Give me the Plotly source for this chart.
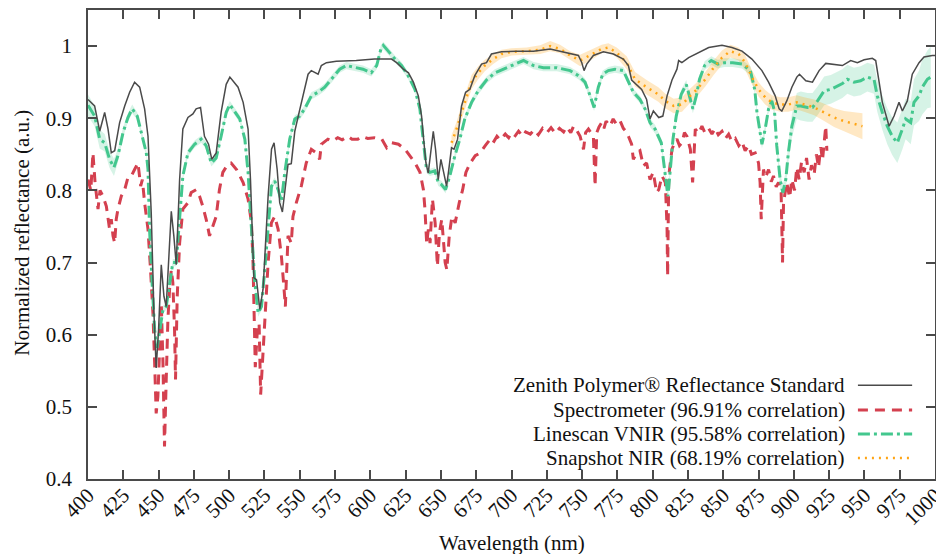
import plotly.graph_objects as go

# ---------------- data ----------------
ref_x = [400, 404.7, 408.3, 411.8, 414.2, 416.5, 418.9, 422.4, 426, 429.5, 433, 436.6, 440.1, 442.5,
         444.8, 446.7, 448.3, 450, 451.9, 453.8, 455.4, 457.1, 459, 460.8, 462.5, 464.9, 467.2, 470.8,
         474.3, 476.6, 479.7, 482.5, 485.4, 487.7, 490.8, 494.3, 497.9, 500.5, 506.3, 509.9, 513.4,
         515.1, 515.8, 517.5, 519.4, 521.7, 524, 527.6, 530, 531.8, 534, 535.8, 537.7, 539.4, 541.7,
         544, 546.5, 550, 552.3, 555.9, 558.2, 560.6, 563, 565.3, 568.9, 575.9, 590, 603, 615, 618.6,
         623.4, 627, 630.5, 634, 636.3, 638, 639.4, 641, 642.9, 644.6, 646.2, 648.1, 650, 651.6, 654,
         655.6, 657.5, 659.3, 661.8, 664.6, 667.5, 670.5, 674, 678.8, 682.3, 685.8, 692.9, 703.5,
         715.6, 727.4, 739.1, 747.4, 749.8, 751.4, 753.3, 758, 765.1, 772.2, 779.2, 782.8, 785.1,
         788.7, 792.2, 795.7, 798.1, 800.5, 804.3, 807.2, 810.2, 813.7, 817.2, 818.4, 820.7, 825.5,
         832.6, 839.7, 849.1, 856.2, 863.3, 870.3, 877.4, 882.1, 886.8, 889.6, 891.5, 895, 898.6,
         902.1, 904, 908.5, 913.2, 917.9, 922.6, 928.5, 934.4, 940.3, 945, 949.8, 955.6, 958, 960.4,
         962.7, 967.5, 971, 974.5, 976.9, 980.4, 983.9, 988.7, 992.2, 998.1, 1000]
ref_y = [0.926, 0.917, 0.882, 0.908, 0.885, 0.852, 0.855, 0.894, 0.917, 0.936, 0.950, 0.943, 0.913, 0.875,
         0.769, 0.631, 0.554, 0.607, 0.697, 0.653, 0.639, 0.700, 0.771, 0.737, 0.697, 0.815, 0.885, 0.901,
         0.906, 0.913, 0.915, 0.875, 0.864, 0.843, 0.852, 0.908, 0.947, 0.957, 0.943, 0.922, 0.885,
         0.815, 0.769, 0.679, 0.676, 0.635, 0.663, 0.792, 0.857, 0.866, 0.829, 0.783, 0.770, 0.801, 0.836,
         0.837, 0.882, 0.912, 0.931, 0.961, 0.966, 0.964, 0.961, 0.973, 0.977, 0.979, 0.980, 0.982, 0.982, 0.977,
         0.968, 0.963, 0.950, 0.931, 0.903, 0.866, 0.838, 0.824, 0.857, 0.882, 0.857, 0.815, 0.843, 0.829, 0.806,
         0.829, 0.859, 0.857, 0.871, 0.917, 0.936, 0.940, 0.959, 0.975, 0.977, 0.989, 0.992, 0.993,
         0.993, 0.996, 0.991, 0.987, 0.977, 0.966, 0.975, 0.987, 0.992, 0.989, 0.982, 0.973, 0.953,
         0.947, 0.940, 0.926, 0.899, 0.910, 0.901, 0.903, 0.931, 0.953, 0.968, 0.980, 0.977, 0.984,
         0.991, 0.998, 1.001, 0.998, 0.993, 0.982, 0.966, 0.950, 0.931, 0.913, 0.910, 0.924, 0.943,
         0.957, 0.961, 0.952, 0.950, 0.966, 0.976, 0.974, 0.973, 0.980, 0.977, 0.981, 0.983, 0.980, 0.950,
         0.922, 0.889, 0.903, 0.922, 0.910, 0.924, 0.961, 0.977, 0.985, 0.987, 0.987]

spec_x = [400, 402, 403.5, 405, 407.1, 408.5, 410.6, 413, 415.3, 416.5,
          417.7, 418.9, 420, 421.2, 423.6, 426, 428.3, 430.7, 433, 435.4,
          437.3, 438.5, 440.1, 442.5, 444.3, 446, 447.2, 448.3, 449.5, 450.7,
          451.9, 453.1, 454.2, 455.4, 456.6, 457.8, 459, 460.1, 461.3, 462,
          463.2, 464.9, 467.2, 470.8, 473.1, 476.6, 479, 481.3, 483.7, 486.1,
          488.4, 490.8, 493.1, 495.5, 499, 501.4, 505.2, 509.9, 513.4, 515.8,
          516.9, 517.5, 518.5, 520, 521.2, 522.3, 524, 525.2, 527.6, 529.9,
          532.3, 534.7, 537, 538.9, 539.8, 541.7, 544, 545.2, 547.6, 551.1,
          554.6, 558.2, 561.7, 564.1, 565.3, 569.9, 573, 576.9, 580, 584,
          587, 591.1, 594, 598.2, 602.9, 608.1, 611.6, 615.2, 619.9, 624.6,
          628.1, 631.7, 635.2, 637.6, 638.7, 639.9, 641.1, 642.3, 644, 645.9,
          647.5, 649, 650.6, 651.8, 653, 654.2, 655.9, 657.8, 660.1, 663,
          665.4, 667.7, 670.8, 674.3, 677.9, 681.4, 685, 687, 689.7, 692,
          695.6, 698, 700, 702.7, 705, 708, 710, 713.3, 716, 719,
          722, 725.1, 728, 731, 734, 736.9, 739, 742, 744, 746.3,
          748.6, 751, 752.5, 754.5, 757, 758, 759.2, 760.4, 762, 763.9,
          765.5, 767, 769.8, 772, 774.5, 777, 779.2, 781, 782.8, 785.1,
          786.3, 788.7, 791, 793.4, 795.7, 798.1, 800.4, 802.8, 804.3, 806.6,
          809, 810.2, 810.6, 811.4, 813.7, 815.5, 817.2, 819, 820.8, 822.5,
          824.3, 826.7, 828.3, 830.2, 832.5, 834.9, 837, 839.6, 842, 844.3,
          846.5, 849.1, 851.5, 853.8, 856, 858.5, 861, 863.2, 865.5, 867.9,
          870, 872.6, 875, 876.1, 876.9, 878.5, 880, 882.1, 884, 885.6,
          887.5, 889.2, 891, 891.5, 892, 892.7, 895, 897, 898.6, 900.5,
          902.1, 903.8, 905.5, 907.3, 909, 910.8, 912.5, 914.4, 916, 917.5,
          919.1, 920.3, 921.5, 922.6, 923.4]
spec_y = [0.815, 0.800, 0.852, 0.811, 0.774, 0.800, 0.792, 0.778, 0.746, 0.760,
          0.737, 0.727, 0.760, 0.774, 0.792, 0.801, 0.818, 0.820, 0.829, 0.838,
          0.806, 0.815, 0.783, 0.746, 0.690, 0.630, 0.561, 0.491, 0.514, 0.584,
          0.644, 0.561, 0.445, 0.537, 0.621, 0.663, 0.690, 0.672, 0.607, 0.538,
          0.653, 0.727, 0.774, 0.783, 0.797, 0.801, 0.792, 0.778, 0.760, 0.737,
          0.750, 0.764, 0.801, 0.825, 0.836, 0.838, 0.829, 0.811, 0.788, 0.755,
          0.700, 0.640, 0.555, 0.607, 0.616, 0.517, 0.579, 0.616, 0.700, 0.755,
          0.764, 0.746, 0.709, 0.663, 0.639, 0.737, 0.727, 0.764, 0.783, 0.806,
          0.838, 0.857, 0.852, 0.843, 0.864, 0.871, 0.868, 0.873, 0.870, 0.875,
          0.871, 0.871, 0.875, 0.872, 0.873, 0.871, 0.859, 0.866, 0.864, 0.857,
          0.848, 0.838, 0.825, 0.801, 0.774, 0.727, 0.746, 0.727, 0.788, 0.755,
          0.695, 0.742, 0.760, 0.727, 0.700, 0.690, 0.737, 0.764, 0.755, 0.783,
          0.801, 0.825, 0.838, 0.848, 0.852, 0.862, 0.871, 0.866, 0.875, 0.870,
          0.878, 0.873, 0.880, 0.876, 0.882, 0.875, 0.881, 0.878, 0.884, 0.877,
          0.886, 0.880, 0.887, 0.879, 0.886, 0.881, 0.888, 0.880, 0.889, 0.883,
          0.875, 0.857, 0.880, 0.885, 0.878, 0.875, 0.806, 0.880, 0.888, 0.894,
          0.886, 0.896, 0.889, 0.899, 0.891, 0.896, 0.886, 0.882, 0.875, 0.864,
          0.843, 0.852, 0.855, 0.834, 0.838, 0.815, 0.825, 0.797, 0.801, 0.820,
          0.811, 0.746, 0.681, 0.820, 0.857, 0.866, 0.871, 0.862, 0.866, 0.880,
          0.875, 0.857, 0.811, 0.885, 0.879, 0.889, 0.880, 0.886, 0.878, 0.886,
          0.877, 0.882, 0.872, 0.878, 0.868, 0.872, 0.862, 0.868, 0.855, 0.862,
          0.850, 0.852, 0.838, 0.811, 0.760, 0.829, 0.818, 0.829, 0.812, 0.820,
          0.805, 0.811, 0.797, 0.746, 0.700, 0.783, 0.811, 0.790, 0.815, 0.800,
          0.832, 0.815, 0.840, 0.825, 0.845, 0.815, 0.835, 0.822, 0.850, 0.832,
          0.860, 0.842, 0.872, 0.889, 0.855]

lin_x = [400, 404.7, 408.3, 411.8, 415.3, 418.4, 421.2, 424.8, 428.3, 431.3, 434.9, 438.2, 441.3, 442.5,
         443.6, 445.3, 447.2, 449, 450.7, 453.1, 455.4, 457.8, 460.1, 462.5, 464.9, 467.2, 470.8, 475.5,
         480.2, 483.7, 487.3, 490.8, 494.3, 497.9, 500.5, 507.5, 511.1, 513.4, 515.1, 516.5, 518.2, 520.5,
         522.9, 525.2, 527.6, 530, 532.3, 534.7, 537, 539.4, 542.9, 546.5, 550, 553.5, 558.2, 563, 567.7,
         572.4, 578.3, 583, 588.9, 594.8, 600.7, 604.5, 607.5, 609.2, 612.7, 617.4, 622.1, 626.8, 631.6,
         635.1, 637.4, 639.8, 642.2, 645.7, 648.1, 650.4, 653.3, 656.3, 659.9, 663.4, 666.9, 671.7, 676.4,
         682.3, 688.2, 694.1, 700, 708.5, 715.6, 722.6, 732.1, 741.5, 747.4, 752.1, 755.7, 758.5, 761.5,
         764.6, 768.6, 773.3, 779.2, 782.8, 786.3, 791, 794.6, 798.1, 801.7, 806.1, 808.4, 810.8, 812.5,
         814.4, 816.7, 820.2, 823.8, 826.1, 828.5, 830.9, 833.2, 836.8, 841.5, 846.2, 850.9, 856.8, 863.3,
         869.2, 872.3, 873.9, 876.3, 877.4, 879.7, 882.1, 884.4, 886.3, 887.9, 890.3, 892.2, 894.3, 896.1,
         898.6, 902.1, 905, 909.7, 913.2, 916.8, 921.5, 926.2, 930.9, 934.4, 937.9, 942.6, 947.3, 952.1,
         956.8, 959.1, 962.7, 966.2, 969.7, 973.3, 976.9, 979.2, 982.8, 985.1, 988.7, 991, 994.6, 997]
lin_y = [0.918, 0.903, 0.871, 0.866, 0.843, 0.832, 0.848, 0.880, 0.901, 0.913, 0.903, 0.875, 0.852, 0.829,
         0.746, 0.676, 0.607, 0.582, 0.607, 0.635, 0.639, 0.672, 0.700, 0.700, 0.764, 0.820, 0.852, 0.864,
         0.871, 0.862, 0.838, 0.845, 0.875, 0.908, 0.919, 0.899, 0.871, 0.825, 0.769, 0.723, 0.672, 0.630,
         0.639, 0.690, 0.755, 0.806, 0.813, 0.801, 0.785, 0.825, 0.871, 0.899, 0.903, 0.913, 0.931, 0.936, 0.943,
         0.954, 0.968, 0.973, 0.970, 0.968, 0.963, 0.973, 0.996, 1.001, 0.993, 0.982, 0.973, 0.959, 0.940,
         0.913, 0.871, 0.829, 0.825, 0.827, 0.811, 0.808, 0.801, 0.820, 0.848, 0.871, 0.899, 0.922, 0.938,
         0.953, 0.963, 0.968, 0.973, 0.980, 0.973, 0.970, 0.970, 0.966, 0.959, 0.950, 0.931, 0.915, 0.943,
         0.961, 0.966, 0.968, 0.966, 0.950, 0.936, 0.926, 0.913, 0.894, 0.885, 0.866, 0.829, 0.792, 0.829,
         0.871, 0.903, 0.933, 0.947, 0.931, 0.913, 0.931, 0.954, 0.973, 0.980, 0.975, 0.977, 0.977, 0.975,
         0.966, 0.940, 0.908, 0.875, 0.864, 0.885, 0.913, 0.924, 0.910, 0.862, 0.815, 0.797, 0.815, 0.852,
         0.889, 0.917, 0.917, 0.915, 0.915, 0.924, 0.938, 0.940, 0.945, 0.948, 0.954, 0.950, 0.952, 0.957,
         0.954, 0.931, 0.908, 0.889, 0.875, 0.866, 0.885, 0.899, 0.894, 0.922, 0.931, 0.943, 0.954, 0.957]
lin_err = [0.015, 0.014, 0.013, 0.012, 0.012, 0.012, 0.009, 0.007, 0.006, 0.006, 0.005, 0.005, 0.005, 0.005,
           0.005, 0.005, 0.005, 0.005, 0.005, 0.005, 0.005, 0.005, 0.005, 0.005, 0.005, 0.005, 0.005, 0.005,
           0.005, 0.005, 0.005, 0.005, 0.005, 0.005, 0.005, 0.005, 0.005, 0.005, 0.005, 0.005, 0.005, 0.005,
           0.005, 0.005, 0.005, 0.005, 0.005, 0.005, 0.005, 0.005, 0.005, 0.005, 0.005, 0.005, 0.005, 0.005, 0.005,
           0.005, 0.005, 0.005, 0.005, 0.005, 0.005, 0.005, 0.005, 0.005, 0.005, 0.005, 0.005, 0.005, 0.005,
           0.005, 0.005, 0.005, 0.005, 0.005, 0.005, 0.005, 0.005, 0.005, 0.005, 0.005, 0.005, 0.005, 0.005,
           0.005, 0.005, 0.005, 0.005, 0.005, 0.005, 0.005, 0.005, 0.005, 0.005, 0.005, 0.005, 0.005, 0.005,
           0.005, 0.005, 0.005, 0.005, 0.005, 0.005, 0.005, 0.005, 0.006, 0.006, 0.006, 0.006, 0.006, 0.006,
           0.006, 0.006, 0.006, 0.006, 0.006, 0.006, 0.006, 0.006, 0.006, 0.006, 0.006, 0.006, 0.006, 0.006,
           0.006, 0.006, 0.006, 0.006, 0.006, 0.006, 0.006, 0.006, 0.006, 0.008, 0.010, 0.010, 0.012, 0.014,
           0.016, 0.018, 0.020, 0.020, 0.020, 0.020, 0.020, 0.020, 0.020, 0.020, 0.020, 0.020, 0.020, 0.020,
           0.020, 0.022, 0.024, 0.025, 0.026, 0.028, 0.028, 0.028, 0.030, 0.032, 0.035, 0.038, 0.040, 0.042]

snap_x = [657.5, 661.1, 664.6, 668.2, 671.7, 676.4, 681.1, 687, 692.9, 700, 710.8, 720.3, 727.4, 734.4,
          741.5, 748.6, 755.7, 763.9, 768.6, 774.5, 781.6, 787.5, 795.7, 804, 809, 814.9, 820.8, 825.5,
          831.4, 837.3, 843.2, 849.1, 855, 860.9, 865.6, 870.3, 875, 879.7, 884.4, 890.3, 896.1, 902.1,
          907.3, 914.4, 921.5, 928.5, 935.6, 942.7, 948.6]
snap_y = [0.866, 0.885, 0.908, 0.931, 0.950, 0.963, 0.973, 0.982, 0.989, 0.992, 0.993, 0.995, 1.000, 0.996,
          0.987, 0.980, 0.987, 0.996, 0.998, 0.991, 0.977, 0.954, 0.943, 0.933, 0.924, 0.917, 0.919, 0.929,
          0.940, 0.954, 0.970, 0.984, 0.993, 0.989, 0.977, 0.957, 0.940, 0.929, 0.922, 0.919, 0.919, 0.922,
          0.919, 0.915, 0.908, 0.901, 0.896, 0.892, 0.889]
snap_err = [0.010, 0.010, 0.010, 0.010, 0.010, 0.009, 0.008, 0.007, 0.006, 0.005, 0.005, 0.006, 0.007, 0.006,
            0.006, 0.008, 0.007, 0.006, 0.006, 0.007, 0.009, 0.010, 0.010, 0.010, 0.010, 0.010, 0.010, 0.010,
            0.010, 0.010, 0.010, 0.010, 0.009, 0.009, 0.010, 0.010, 0.010, 0.010, 0.010, 0.010, 0.010, 0.010,
            0.010, 0.011, 0.012, 0.013, 0.014, 0.016, 0.018]

legend_names = ["Zenith Polymer® Reflectance Standard",
                "Spectrometer (96.91% correlation)",
                "Linescan VNIR (95.58% correlation)",
                "Snapshot NIR (68.19% correlation)"]

y_tickvals = [0.4, 0.5, 0.6, 0.7, 0.8, 0.9, 1.0]
y_ticktext = ["0.4", "0.5", "0.6", "0.7", "0.8", "0.9", "1"]
x_tickvals = list(range(400, 1001, 25))

# ---------------- styles ----------------
C_REF = "#4a4a4a"
C_SPEC = "#d4404f"
C_LIN = "#43c78e"
C_SNAP = "#ffa514"
BAND_LIN = "rgba(67,199,142,0.22)"
BAND_SNAP = "rgba(255,165,20,0.25)"
FONT = "Liberation Serif, DejaVu Serif, serif"

fig = go.Figure()

# bands
def add_band(xs, ys, es, fillcolor):
    up = [y + e for y, e in zip(ys, es)]
    lo = [y - e for y, e in zip(ys, es)]
    fig.add_trace(go.Scatter(x=xs, y=up, mode="lines", line=dict(width=0), hoverinfo="skip", showlegend=False))
    fig.add_trace(go.Scatter(x=xs, y=lo, mode="lines", line=dict(width=0), fill="tonexty",
                             fillcolor=fillcolor, hoverinfo="skip", showlegend=False))

add_band(lin_x, lin_y, lin_err, BAND_LIN)
add_band(snap_x, snap_y, snap_err, BAND_SNAP)

DASH_SPEC = "10px,7px"
DASH_LIN = "12px,4px,3px,4px"
DASH_SNAP = "2px,5px"

fig.add_trace(go.Scatter(x=spec_x, y=spec_y, mode="lines", name=legend_names[1],
                         line=dict(color=C_SPEC, width=3, dash=DASH_SPEC), showlegend=False))
fig.add_trace(go.Scatter(x=lin_x, y=lin_y, mode="lines", name=legend_names[2],
                         line=dict(color=C_LIN, width=3, dash=DASH_LIN), showlegend=False))
fig.add_trace(go.Scatter(x=snap_x, y=snap_y, mode="lines", name=legend_names[3],
                         line=dict(color=C_SNAP, width=2.5, dash=DASH_SNAP), showlegend=False))
fig.add_trace(go.Scatter(x=ref_x, y=ref_y, mode="lines", name=legend_names[0],
                         line=dict(color=C_REF, width=1.5), showlegend=False))

# gnuplot-style key: text right-aligned, sample to its right
key_rows = [0.200, 0.147, 0.096, 0.045]
key_styles = [(C_REF, 1.5, "solid"), (C_SPEC, 3, DASH_SPEC), (C_LIN, 3, DASH_LIN), (C_SNAP, 2.5, DASH_SNAP)]
for name, yk, (col, w, d) in zip(legend_names, key_rows, key_styles):
    fig.add_annotation(x=0.896, y=yk, xref="paper", yref="paper", text=name, showarrow=False,
                       xanchor="right", yanchor="middle", font=dict(family=FONT, size=21, color="#111"))
    fig.add_shape(type="line", xref="paper", yref="paper", x0=0.909, x1=0.973, y0=yk, y1=yk,
                  line=dict(color=col, width=w, dash=d))

# axis titles
fig.add_annotation(x=0.5, y=-0.137, xref="paper", yref="paper", text="Wavelength (nm)", showarrow=False,
                   xanchor="center", yanchor="middle", font=dict(family=FONT, size=21, color="#111"))
fig.add_annotation(x=-0.078, y=0.525, xref="paper", yref="paper", text="Normalized reflectance (a.u.)",
                   showarrow=False, textangle=-90, xanchor="center", yanchor="middle",
                   font=dict(family=FONT, size=21, color="#111"))

axis_common = dict(showline=True, linecolor=C_REF, linewidth=1.5, mirror="allticks", ticks="inside",
                   ticklen=9, tickwidth=1.5, tickcolor=C_REF, showgrid=False, zeroline=False,
                   automargin=False, tickfont=dict(family=FONT, size=21, color="#111"))

fig.update_xaxes(range=[400, 1000], tickvals=x_tickvals, tickangle=-45, ticklabelstandoff=-6,
                 ticklabeloverflow="allow", **axis_common)
fig.update_yaxes(range=[0.4, 1.05], tickvals=y_tickvals, ticktext=y_ticktext, ticklabelstandoff=10,
                 **axis_common)

fig.update_layout(width=936, height=554, margin=dict(l=88, r=1, t=10, b=75, autoexpand=False),
                  paper_bgcolor="white", plot_bgcolor="white", showlegend=False,
                  font=dict(family=FONT, size=21, color="#111"))

fig.write_html("out.html", config={"displayModeBar": False},
               post_script="document.body.style.margin='0';document.body.style.padding='0';")
